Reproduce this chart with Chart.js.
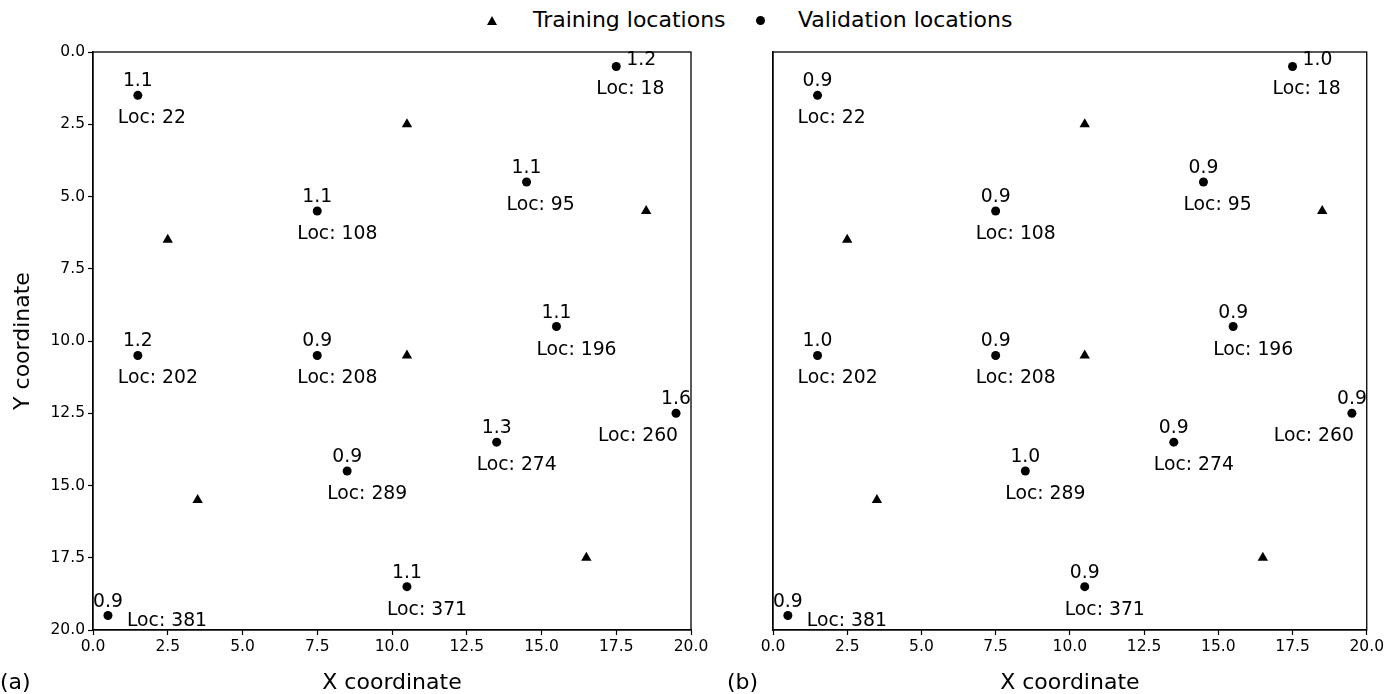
<!DOCTYPE html>
<html>
<head>
<meta charset="utf-8">
<script src="https://cdn.jsdelivr.net/npm/chart.js@4.4.1/dist/chart.umd.min.js"></script>
<style>
  html, body { margin: 0; padding: 0; background: #fff; }
  body { width: 1387px; height: 694px; position: relative; overflow: hidden;
         font-family: "DejaVu Sans", sans-serif; color: #000; }
  #chartA { position: absolute; left: 0; top: 0; }
  #chartB { position: absolute; left: 693px; top: 0; }
  .legend { position: absolute; top: 0; left: 0; width: 1387px; height: 44px; font-size: 22px; }
  .legend .item { position: absolute; top: 7px; line-height: 26px; white-space: nowrap; }
  .tri { position: absolute; width: 0; height: 0;
         border-left: 5px solid transparent; border-right: 5px solid transparent;
         border-bottom: 9px solid #000; }
  .dot { position: absolute; width: 9px; height: 9px; border-radius: 50%; background: #000; }
</style>
</head>
<body>
<div class="legend">
  <div class="tri" style="left:487px; top:16px;"></div>
  <div class="item" style="left:533px;">Training locations</div>
  <div class="dot" style="left:756px; top:16px;"></div>
  <div class="item" style="left:798px;">Validation locations</div>
</div>
<canvas id="chartA" width="720" height="694"></canvas>
<canvas id="chartB" width="694" height="694"></canvas>
<script>
// Training locations (grid coordinates)
const trainX = [10.5, 18.5, 2.5, 10.5, 3.5, 16.5];
const trainY = [2.5, 5.5, 6.5, 10.5, 15.5, 17.5];

// Validation locations
const locIds = [22, 18, 95, 108, 196, 202, 208, 260, 274, 289, 371, 381];
const valX   = [1.5, 17.5, 14.5, 7.5, 15.5, 1.5, 7.5, 19.5, 13.5, 8.5, 10.5, 0.5];
const valY   = [1.5, 0.5, 4.5, 5.5, 9.5, 10.5, 10.5, 12.5, 13.5, 14.5, 18.5, 19.5];

// Score at each validation location, panel (a) and panel (b)
const scoreA = [1.1, 1.2, 1.1, 1.1, 1.1, 1.2, 0.9, 1.6, 1.3, 0.9, 1.1, 0.9];
const scoreB = [0.9, 1.0, 0.9, 0.9, 0.9, 1.0, 0.9, 0.9, 0.9, 1.0, 0.9, 0.9];

// Axis tick values
const tickValues = [0, 2.5, 5, 7.5, 10, 12.5, 15, 17.5, 20];

// Annotation placement (pixel offsets from the marker); a few labels are moved away from the frame
const valueLabelDefault = { align: 'center', dx: 0, dy: -9 };
const locLabelDefault = { align: 'left', dx: -20, dy: 28 };
const labelOverrides = {
  18:  { value: { align: 'left', dx: 10, dy: -1 } },
  260: { loc: { align: 'right', dx: 2, dy: 28 } },
  381: { loc: { align: 'left', dx: 19, dy: 10 } }
};

const FONT = '"DejaVu Sans", sans-serif';

function pts(xs, ys) { return xs.map((x, i) => ({ x: x, y: ys[i] })); }

const annotatePlugin = {
  id: 'annotate',
  afterDatasetsDraw(chart, args, opts) {
    const ctx = chart.ctx;
    const xs = chart.scales.x, ys = chart.scales.y;
    ctx.save();
    ctx.fillStyle = '#000';
    ctx.font = '18.8px ' + FONT;
    ctx.textBaseline = 'alphabetic';
    locIds.forEach((id, i) => {
      const px = xs.getPixelForValue(valX[i]);
      const py = ys.getPixelForValue(valY[i]);
      const ov = labelOverrides[id] || {};
      const v = ov.value || valueLabelDefault;
      const l = ov.loc || locLabelDefault;
      ctx.textAlign = v.align;
      ctx.fillText(opts.scores[i].toFixed(1), px + v.dx, py + v.dy);
      ctx.textAlign = l.align;
      ctx.fillText('Loc: ' + id, px + l.dx, py + l.dy);
    });
    ctx.restore();
  },
  afterDraw(chart, args, opts) {
    const ctx = chart.ctx;
    const a = chart.chartArea;
    ctx.save();
    ctx.strokeStyle = '#000';
    ctx.lineWidth = 1.3;
    ctx.strokeRect(a.left, a.top, a.right - a.left, a.bottom - a.top);
    ctx.fillStyle = '#000';
    ctx.font = '22px ' + FONT;
    ctx.textAlign = 'left';
    ctx.textBaseline = 'middle';
    ctx.fillText(opts.panel, opts.panelX, 683);
    ctx.restore();
  }
};

function makeChart(canvasId, scores, panel, panelX, yAxisWidth, rightPad, showY) {
  return new Chart(document.getElementById(canvasId), {
    type: 'scatter',
    data: {
      datasets: [
        {
          label: 'Training locations',
          data: pts(trainX, trainY),
          pointStyle: 'triangle',
          radius: 6,
          backgroundColor: '#000',
          borderColor: '#000',
          borderWidth: 0
        },
        {
          label: 'Validation locations',
          data: pts(valX, valY),
          pointStyle: 'circle',
          radius: 4.5,
          backgroundColor: '#000',
          borderColor: '#000',
          borderWidth: 0
        }
      ]
    },
    options: {
      responsive: false,
      animation: false,
      layout: { padding: { top: 52, right: rightPad, left: 0, bottom: 0 } },
      plugins: {
        legend: { display: false },
        tooltip: { enabled: false },
        annotate: { scores: scores, panel: panel, panelX: panelX }
      },
      scales: {
        x: {
          type: 'linear',
          min: 0, max: 20,
          afterBuildTicks: s => { s.ticks = tickValues.map(v => ({ value: v })); },
          afterFit: s => { s.height = 64; },
          grid: { drawOnChartArea: false, drawTicks: true, tickLength: 5, tickColor: '#000', tickWidth: 1.2 },
          border: { display: true, color: '#000', width: 1.3 },
          ticks: {
            color: '#000', font: { family: FONT, size: 15.5 }, padding: 3,
            autoSkip: false, maxRotation: 0,
            callback: v => Number(v).toFixed(1)
          },
          title: {
            display: true, text: 'X coordinate', color: '#000',
            font: { family: FONT, size: 22, lineHeight: 1 },
            padding: { top: 0, bottom: 0 }
          }
        },
        y: {
          type: 'linear',
          reverse: true,
          min: 0, max: 20,
          afterBuildTicks: s => { s.ticks = tickValues.map(v => ({ value: v })); },
          afterFit: s => { s.width = yAxisWidth; },
          grid: { drawOnChartArea: false, drawTicks: showY, tickLength: 5, tickColor: '#000', tickWidth: 1.2 },
          border: { display: true, color: '#000', width: 1.3 },
          ticks: {
            display: showY,
            color: '#000', font: { family: FONT, size: 15.5 }, padding: 3,
            autoSkip: false,
            callback: v => Number(v).toFixed(1)
          },
          title: {
            display: showY, text: 'Y coordinate', color: '#000',
            font: { family: FONT, size: 22, lineHeight: 1 },
            padding: { top: 12, bottom: 0 }
          }
        }
      }
    },
    plugins: [annotatePlugin]
  });
}

makeChart('chartA', scoreA, '(a)', 0, 93, 29, true);
makeChart('chartB', scoreB, '(b)', 34, 80, 17, false);
</script>
</body>
</html>
